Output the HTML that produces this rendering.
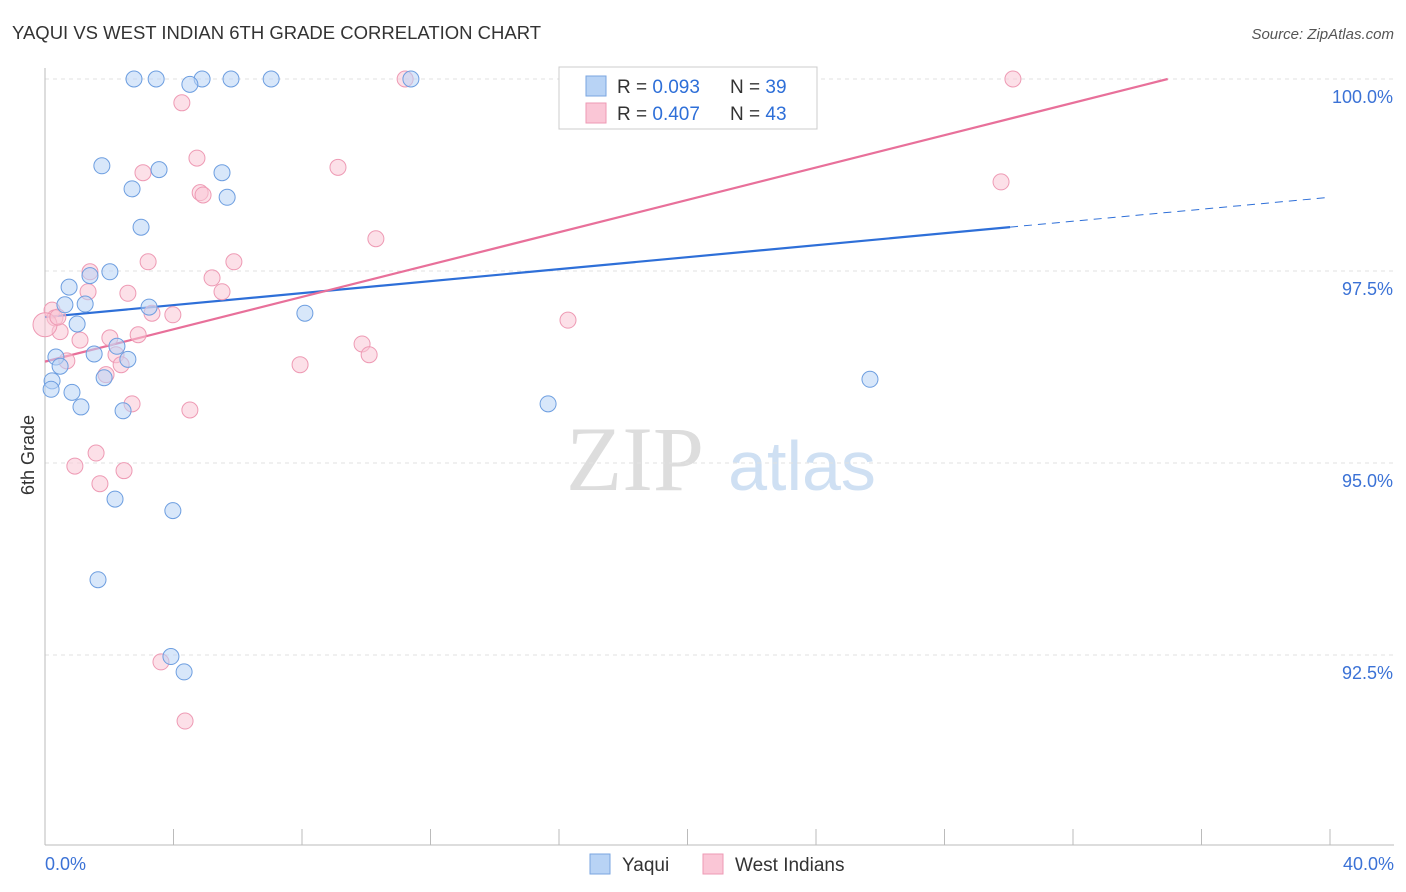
<!DOCTYPE html>
<html><head><meta charset="utf-8"><style>
body{margin:0;background:#fff;font-family:"Liberation Sans",sans-serif;}
svg{display:block}
</style></head><body>
<svg id="chart" width="1406" height="892">
<text x="12" y="39" font-size="18.5" fill="#333">YAQUI VS WEST INDIAN 6TH GRADE CORRELATION CHART</text>
<text x="1394" y="39" font-size="15" fill="#555" font-style="italic" text-anchor="end">Source: ZipAtlas.com</text>
<text x="34" y="455" font-size="18" fill="#333" transform="rotate(-90 34 455)" text-anchor="middle">6th Grade</text>
<g>
<text x="635" y="490" font-size="92" fill="#ddd" font-family="Liberation Serif,serif" text-anchor="middle">ZIP</text>
<text x="802" y="490" font-size="70" fill="#cfe0f3" text-anchor="middle">atlas</text>
</g>
<g id="grid"></g><g id="axes"></g><g id="lines"></g><g id="pts"></g>
<g>
<rect x="559" y="67" width="258" height="62" fill="#fff" stroke="#ccc"/>
<rect x="586" y="76" width="20" height="20" fill="#b8d3f5" stroke="#7aa6e0"/>
<rect x="586" y="103" width="20" height="20" fill="#fac6d6" stroke="#ee9ab4"/>
<text y="93" font-size="19" fill="#333"><tspan x="617">R = </tspan><tspan fill="#2e6fd8">0.093</tspan><tspan x="730">N = </tspan><tspan fill="#2e6fd8">39</tspan></text>
<text y="120" font-size="19" fill="#333"><tspan x="617">R = </tspan><tspan fill="#2e6fd8">0.407</tspan><tspan x="730">N = </tspan><tspan fill="#2e6fd8">43</tspan></text>
</g>
<g>
<rect x="590" y="854" width="20" height="20" fill="#b8d3f5" stroke="#7aa6e0"/>
<text x="622" y="871" font-size="19" fill="#333">Yaqui</text>
<rect x="703" y="854" width="20" height="20" fill="#fac6d6" stroke="#ee9ab4"/>
<text x="735" y="871" font-size="19" fill="#333">West Indians</text>
</g>
</svg>
<script>
const yaquiX=[2.77,3.46,4.89,5.79,7.04,11.39,4.51,1.77,3.55,5.51,2.71,5.67,2.99,2.02,0.75,1.40,0.62,1.25,3.24,8.09,1.00,0.34,0.47,1.53,2.24,2.58,0.22,0.19,0.84,1.84,1.12,2.43,15.66,25.68,2.18,3.98,1.65,3.92,4.33];
const yaquiY=[100,100,100,100,100,100,99.93,98.87,98.82,98.78,98.57,98.46,98.07,97.49,97.29,97.44,97.06,97.07,97.03,96.95,96.81,96.38,96.26,96.42,96.52,96.35,96.07,95.96,95.92,96.11,95.73,95.68,95.77,96.09,94.53,94.38,93.48,92.48,92.28];
const wiX=[11.21,30.13,4.26,4.73,9.12,3.05,4.83,4.92,29.76,10.30,3.21,5.88,1.40,5.20,1.34,2.58,5.51,0.22,0.31,3.33,3.98,16.28,0.47,2.02,2.90,1.09,9.87,10.09,2.21,0.68,2.37,7.94,1.90,2.71,4.51,1.59,0.93,2.46,1.71,3.61,4.36,0.0,0.4];
const wiY=[100,100,99.69,98.97,98.85,98.78,98.52,98.49,98.66,97.92,97.62,97.62,97.49,97.41,97.23,97.21,97.23,96.99,96.89,96.95,96.93,96.86,96.71,96.63,96.67,96.60,96.55,96.41,96.41,96.33,96.28,96.28,96.15,95.77,95.69,95.13,94.96,94.90,94.73,92.41,91.64,96.80,96.9];
const yTicks=[100,97.5,95,92.5];
const yTickLabels=["100.0%","97.5%","95.0%","92.5%"];
const xTicks=[0,4,8,12,16,20,24,28,32,36,40];
const yaquiFit=[96.90,0.0390];
const wiFit=[96.32,0.1053];
const NS="http://www.w3.org/2000/svg";
const X=v=>45+v/40*1285, Y=v=>79+(100-v)/2.5*192;
function mk(t,a,p){const e=document.createElementNS(NS,t);for(const k in a)e.setAttribute(k,a[k]);p.appendChild(e);return e;}
const grid=document.getElementById('grid'),axes=document.getElementById('axes'),lines=document.getElementById('lines'),pts=document.getElementById('pts');
yTicks.forEach((t,i)=>{
 const g=mk('line',{x1:45,x2:1394,y1:Y(t),y2:Y(t),stroke:'#e2e2e2','stroke-dasharray':'4,4'},grid);
 
 
 const l=mk('text',{x:1393,y:Y(t)+24,'font-size':18,fill:'#3b72d6','text-anchor':'end'},axes);
 l.textContent=yTickLabels[i];
 
 
});
const ax=mk('line',{x1:45,x2:45,y1:68,y2:845,stroke:'#bbb'},axes);


const bx=mk('line',{x1:45,x2:1394,y1:845,y2:845,stroke:'#bbb'},axes);


xTicks.forEach(t=>{const e=mk('line',{x1:X(t),x2:X(t),y1:829,y2:845,stroke:'#bbb'},axes);
 
 });
[[0,"0.0%",'start',45],[40,"40.0%",'end',1394]].forEach(d=>{const e=mk('text',{x:d[3],y:870,'font-size':18,fill:'#3b72d6','text-anchor':d[2]},axes);e.textContent=d[1];
 
 });
function pl(fit,x0,x1,col,dash,name){const e=mk('line',{x1:X(x0),y1:Y(fit[0]+fit[1]*x0),x2:X(x1),y2:Y(fit[0]+fit[1]*x1),stroke:col,'stroke-width':dash?1:2.2,'stroke-dasharray':dash||''},lines);
 
 }
pl(yaquiFit,0,30.04,'#2e6fd8',null,'yaqui-trend-line');
pl(yaquiFit,30.04,40,'#2e6fd8','8,6','yaqui-trend-extension');
pl(wiFit,0,(100-wiFit[0])/wiFit[1],'#e8709a',null,'west-indians-trend-line');
function dots(xs,ys,fill,stroke,name){xs.forEach((x,i)=>{const r=(x===0&&name==='west-indian-point')?12:8;
 const c=mk('circle',{cx:X(x),cy:Y(ys[i]),r:r,fill:fill,stroke:stroke,'stroke-width':1,'fill-opacity':0.55},pts);
 
 });}
dots(wiX,wiY,'#fac6d6','#ee9ab4','west-indian-point');
dots(yaquiX,yaquiY,'#b8d3f5','#6d9ee0','yaqui-point');
</script>
</body></html>
